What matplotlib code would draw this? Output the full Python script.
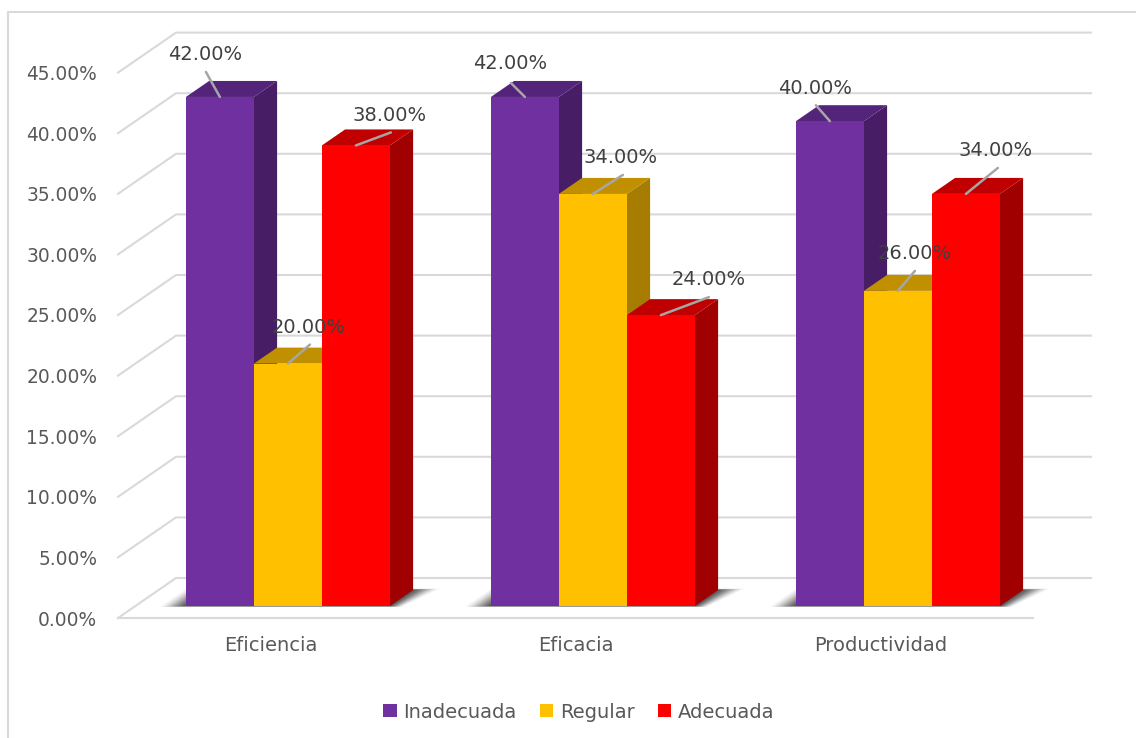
import matplotlib
matplotlib.use('Agg')
import matplotlib.pyplot as plt
from matplotlib.lines import Line2D
from matplotlib.patches import Polygon
from matplotlib.ticker import FuncFormatter

categories = ['Eficiencia', 'Eficacia', 'Productividad']
inadecuada = [42.0, 42.0, 40.0]
regular = [20.0, 34.0, 26.0]
adecuada = [38.0, 24.0, 34.0]

series_names = ['Inadecuada', 'Regular', 'Adecuada']
series_values = [inadecuada, regular, adecuada]
# front, top, side
series_colors = [('#7030A0', '#54237A', '#471E66'),
                 ('#FFC000', '#C09000', '#A67D00'),
                 ('#FF0000', '#C00000', '#A00000')]

# label and leader offsets in pixels from the top of each bar, per category then series
label_offsets = [[(-15, 42), (21, 36), (34, 30)],
                 [(-15, 33), (28, 36), (48, 36)],
                 [(-15, 33), (17, 37), (30, 43)]]
leader_ends = [[(-14, 25), (22, 19), (35, 13)],
               [(-14, 14), (30, 19), (48, 18)],
               [(-14, 16), (17, 20), (32, 26)]]

TEXT = '#595959'
GRID = '#D9D9D9'
W, H = 1136, 738

fig = plt.figure(figsize=(W / 100, H / 100), dpi=100)
ax = fig.add_axes([118 / W, 1 - 618 / H, 915 / W, 545.4 / H])
ax.set_xlim(-0.5, 2.5)
ax.set_ylim(0, 45)
ax.patch.set_alpha(0)
for s in ax.spines.values():
    s.set_visible(False)

# one pixel in data units
PX = 1 / 305
PY = 1 / 12.12
# depth of the floor and size of a bar, in data units
DX = 58 * PX
DY = 40 * PY
BAR_W = 68 * PX
NEAR, FAR = 0.3, 0.7


def proj(x, v, d=0.0):
    # oblique projection: d runs from the front of the floor (0) to the wall (1)
    return (x + DX * d, v + DY * d)


# gridlines run across the floor side then along the back wall
for v in range(0, 50, 5):
    x0, y0 = proj(-0.5, v)
    x1, y1 = proj(-0.5, v, 1)
    x2, y2 = proj(2.5, v, 1)
    ax.plot([x0, x1, x2], [y0, y1, y2], color=GRID, lw=1.5, clip_on=False, zorder=1,
            solid_joinstyle='miter')
ax.plot([-0.5, 2.5], [0, 0], color=GRID, lw=1.5, clip_on=False, zorder=1)


def draw_shadow(x_left, x_right):
    # soft floor shadow: stacked translucent outlines shrinking onto the footprint
    inner = [proj(x_left, 0, NEAR), proj(x_right, 0, NEAR),
             proj(x_right, 0, FAR), proj(x_left, 0, FAR)]
    grow = [(-27, -1), (12, -1), (28, 1.5), (-24, 1.5)]
    n = 30
    for k in range(n):
        t = 1 - k / (n - 1)
        pts = [(px + gx * PX * t, py + gy * PY * t) for (px, py), (gx, gy) in zip(inner, grow)]
        ax.add_patch(Polygon(pts, closed=True, fc='#303030', ec='none', alpha=0.008 + 0.09 * k / n,
                             zorder=2, clip_on=False))


group_left = [i - 1.5 * BAR_W for i in range(len(categories))]
for left in group_left:
    draw_shadow(left, left + 3 * BAR_W)

handles = []
for i, left in enumerate(group_left):
    for j, vals in enumerate(series_values):
        v = vals[i]
        xa = left + j * BAR_W
        xb = xa + BAR_W
        front, top, side = series_colors[j]
        z = 3 + i * 3 + j * 0.1
        ax.add_patch(Polygon([proj(xb, 0, NEAR), proj(xb, 0, FAR), proj(xb, v, FAR), proj(xb, v, NEAR)],
                             closed=True, fc=side, ec='none', zorder=z, clip_on=False))
        ax.add_patch(Polygon([proj(xa, v, NEAR), proj(xb, v, NEAR), proj(xb, v, FAR), proj(xa, v, FAR)],
                             closed=True, fc=top, ec='none', zorder=z, clip_on=False))
        p = Polygon([proj(xa, 0, NEAR), proj(xb, 0, NEAR), proj(xb, v, NEAR), proj(xa, v, NEAR)],
                    closed=True, fc=front, ec='none', zorder=z, clip_on=False)
        ax.add_patch(p)
        if i == 0:
            p.set_label(series_names[j])
            handles.append(p)

# leaders and value labels sit above every bar
for i, left in enumerate(group_left):
    for j, vals in enumerate(series_values):
        anchor = proj(left + (j + 0.5) * BAR_W, vals[i], NEAR)
        ax.annotate('', xy=anchor, xytext=leader_ends[i][j], textcoords='offset pixels',
                    arrowprops=dict(arrowstyle='-', color='#A6A6A6', lw=1.8, shrinkA=0, shrinkB=0),
                    zorder=20)
        ax.annotate(f'{vals[i]:.2f}%', xy=anchor, xytext=label_offsets[i][j],
                    textcoords='offset pixels', ha='center', va='center',
                    fontsize=14, color='#404040', zorder=21)

ax.set_xticks(range(len(categories)))
ax.set_xticklabels(categories)
ax.set_yticks(range(0, 50, 5))
ax.yaxis.set_major_formatter(FuncFormatter(lambda v, _: f'{v:.2f}%'))
ax.tick_params(axis='x', length=0, pad=13, labelsize=14, labelcolor=TEXT)
ax.tick_params(axis='y', length=0, pad=15, labelsize=13.4, labelcolor=TEXT)

ax.legend(handles=handles, ncol=3, frameon=False, loc='center', fontsize=14,
          labelcolor=TEXT, bbox_to_anchor=(579 / W, 1 - 712 / H), bbox_transform=fig.transFigure,
          handlelength=0.68, handleheight=0.68, handletextpad=0.35, columnspacing=1.2)

# chart area border
fig.add_artist(Line2D([8 / W, 8 / W, 1], [0, 1 - 12 / H, 1 - 12 / H], color=GRID, lw=1.5))

fig.savefig('out.png', dpi=100)
